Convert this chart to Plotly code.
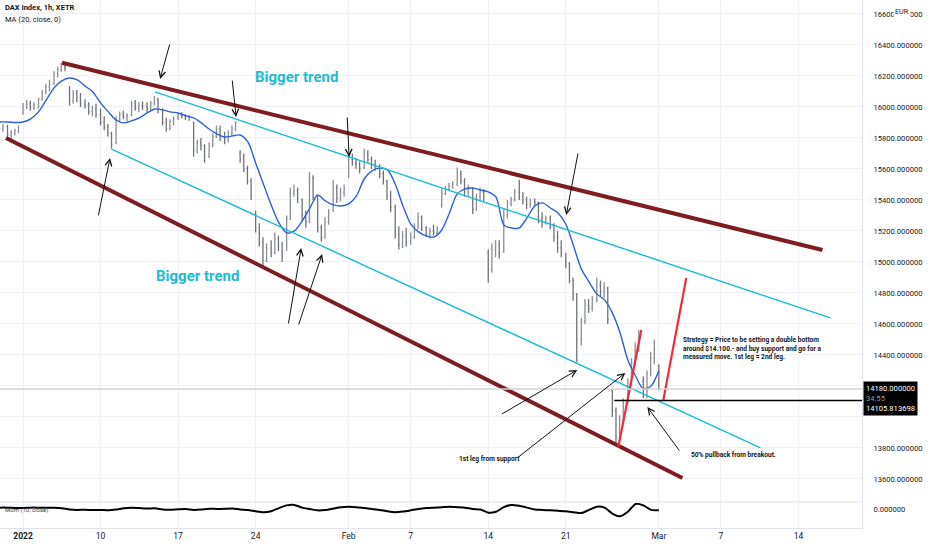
import plotly.graph_objects as go
from plotly.subplots import make_subplots

# trading days shown (Xetra sessions), 4 bars per session
days = ["2021-12-29", "2021-12-30",
        "2022-01-03", "2022-01-04", "2022-01-05", "2022-01-06", "2022-01-07",
        "2022-01-10", "2022-01-11", "2022-01-12", "2022-01-13", "2022-01-14",
        "2022-01-17", "2022-01-18", "2022-01-19", "2022-01-20", "2022-01-21",
        "2022-01-24", "2022-01-25", "2022-01-26", "2022-01-27", "2022-01-28",
        "2022-01-31", "2022-02-01", "2022-02-02", "2022-02-03", "2022-02-04",
        "2022-02-07", "2022-02-08", "2022-02-09", "2022-02-10", "2022-02-11",
        "2022-02-14", "2022-02-15", "2022-02-16", "2022-02-17", "2022-02-18",
        "2022-02-21", "2022-02-22", "2022-02-23", "2022-02-24", "2022-02-25",
        "2022-02-28", "2022-03-01"]
bar_hours = ["09:00", "11:00", "13:00", "15:00"]
ind_hours = ["09:00", "13:15"]

bar_open = [15850, 15870, 15880, 15860,  15870, 15820, 15830, 15845,
            15960, 16000, 16020, 15995,  16015, 16050, 16095, 16130,  16150, 16215, 16240, 16265,
            16120, 16040, 16090, 16060,  16020, 16010, 15970, 15990,
            15950, 15900, 15870, 15830,  15770, 15920, 15950, 15935,  15945, 16020, 15990, 16010,
            16000, 15990, 16025, 16050,  15980, 15900, 15860, 15905,
            15925, 15945, 15940, 15930,  15900, 15720, 15770, 15750,  15680, 15750, 15810, 15860,
            15800, 15790, 15830, 15860,  15700, 15660, 15600, 15520,
            15300, 15220, 15130, 15010,  15090, 15060, 15150, 15100,  15080, 15280, 15440, 15460,
            15400, 15300, 15260, 15540,  15420, 15220, 15160, 15260,
            15330, 15480, 15410, 15450,  15550, 15660, 15640, 15630,  15610, 15700, 15660, 15630,
            15620, 15570, 15520, 15430,  15350, 15180, 15110, 15170,
            15130, 15160, 15230, 15290,  15220, 15180, 15200, 15190,  15370, 15440, 15470, 15490,
            15500, 15570, 15520, 15450,  15470, 15340, 15420, 15450,
            15060, 14950, 15080, 15110,  15070, 15300, 15380, 15400,  15450, 15420, 15400, 15370,
            15390, 15380, 15280, 15260,  15280, 15240, 15160, 15090,
            15000, 14990, 14880, 14790,  14500, 14620, 14720, 14700,  14750, 14850, 14810, 14830,
            14170, 14040, 13870, 13980,  14090, 14220, 14350, 14450,
            14230, 14190, 14280, 14380,  14330]
bar_high = [15890, 15900, 15900, 15890,  15885, 15850, 15860, 15880,
            16025, 16045, 16040, 16030,  16060, 16110, 16150, 16175,  16230, 16260, 16285, 16280,
            16135, 16110, 16110, 16090,  16050, 16030, 16010, 16020,
            15990, 15940, 15890, 15840,  15940, 15970, 15975, 15960,  16040, 16045, 16030, 16035,
            16030, 16040, 16070, 16060,  15990, 15930, 15920, 15940,
            15960, 15965, 15955, 15950,  15905, 15790, 15800, 15760,  15770, 15830, 15880, 15880,
            15840, 15850, 15880, 15910,  15720, 15700, 15620, 15540,
            15330, 15250, 15160, 15120,  15140, 15190, 15170, 15130,  15300, 15480, 15500, 15480,
            15410, 15330, 15580, 15560,  15430, 15240, 15290, 15340,
            15530, 15500, 15480, 15500,  15690, 15700, 15670, 15650,  15730, 15720, 15680, 15660,
            15630, 15590, 15530, 15460,  15370, 15230, 15200, 15220,
            15190, 15250, 15320, 15300,  15230, 15220, 15240, 15230,  15470, 15490, 15510, 15520,
            15610, 15590, 15540, 15500,  15480, 15440, 15480, 15470,
            15080, 15120, 15140, 15140,  15340, 15400, 15420, 15470,  15530, 15450, 15420, 15410,
            15410, 15390, 15320, 15300,  15300, 15250, 15200, 15140,
            15060, 15000, 14900, 14800,  14640, 14760, 14760, 14780,  14900, 14880, 14870, 14840,
            14180, 14060, 14010, 14120,  14250, 14380, 14480, 14560,
            14260, 14300, 14420, 14500,  14340]
bar_low = [15830, 15850, 15840, 15840,  15800, 15790, 15815, 15830,
           15950, 15985, 15975, 15980,  15990, 16040, 16080, 16100,  16140, 16190, 16225, 16230,
           16010, 16020, 16030, 16000,  15990, 15950, 15940, 15930,
           15880, 15850, 15810, 15735,  15760, 15905, 15920, 15910,  15940, 15975, 15965, 15980,
           15965, 15975, 16010, 15960,  15880, 15840, 15850, 15880,
           15915, 15925, 15915, 15910,  15680, 15700, 15720, 15640,  15670, 15740, 15800, 15780,
           15760, 15770, 15815, 15845,  15640, 15580, 15500, 15400,
           15190, 15100, 14970, 15000,  15030, 15050, 15070, 15000,  15070, 15270, 15420, 15380,
           15270, 15220, 15250, 15400,  15190, 15130, 15150, 15240,
           15320, 15380, 15390, 15420,  15540, 15620, 15600, 15570,  15600, 15640, 15600, 15590,
           15540, 15500, 15400, 15320,  15150, 15080, 15090, 15100,
           15110, 15150, 15210, 15200,  15160, 15150, 15170, 15170,  15350, 15430, 15460, 15470,
           15490, 15500, 15420, 15420,  15310, 15330, 15400, 15390,
           14865, 14930, 15030, 15020,  15060, 15280, 15360, 15390,  15400, 15370, 15340, 15350,
           15360, 15250, 15220, 15240,  15210, 15130, 15060, 15030,
           14960, 14860, 14750, 14355,  14460, 14600, 14670, 14680,  14740, 14780, 14770, 14600,
           14000, 13820, 13850, 13950,  14080, 14200, 14330, 14420,
           14120, 14120, 14260, 14340,  14170]
bar_close = [15870, 15880, 15860, 15875,  15820, 15830, 15845, 15870,
             16000, 16020, 15995, 16015,  16050, 16095, 16130, 16150,  16215, 16240, 16265, 16250,
             16040, 16090, 16060, 16020,  16010, 15970, 15990, 15950,
             15900, 15870, 15830, 15760,  15920, 15950, 15935, 15945,  16020, 15990, 16010, 16000,
             15990, 16025, 16050, 15980,  15900, 15860, 15905, 15925,
             15945, 15940, 15930, 15935,  15720, 15770, 15750, 15680,  15750, 15810, 15860, 15800,
             15790, 15830, 15860, 15895,  15660, 15600, 15520, 15430,
             15220, 15130, 15010, 15090,  15060, 15150, 15100, 15040,  15280, 15440, 15460, 15410,
             15300, 15260, 15540, 15420,  15220, 15160, 15260, 15320,
             15480, 15410, 15450, 15470,  15660, 15640, 15630, 15600,  15700, 15660, 15630, 15620,
             15570, 15520, 15430, 15350,  15180, 15110, 15170, 15130,
             15160, 15230, 15290, 15220,  15180, 15200, 15190, 15220,  15440, 15470, 15490, 15500,
             15570, 15520, 15450, 15480,  15340, 15420, 15450, 15420,
             14950, 15080, 15110, 15060,  15300, 15380, 15400, 15450,  15420, 15400, 15370, 15390,
             15380, 15280, 15260, 15280,  15240, 15160, 15090, 15060,
             14990, 14880, 14790, 14500,  14620, 14720, 14700, 14750,  14850, 14810, 14830, 14630,
             14040, 13870, 13980, 14090,  14220, 14350, 14450, 14540,
             14190, 14280, 14380, 14440,  14180]

# MA (20, close) read twice per session
ma_values = [15900, 15903,  15903, 15900,
             15903, 15923,  15968, 16045,  16123, 16168,  16187, 16174,  16135, 16097,
             16026, 15968,  15916, 15897,  15910, 15929,  15961, 15987,  15981, 15968,
             15961, 15942,  15929, 15897,  15858, 15826,  15806, 15813,  15819, 15774,
             15639, 15503,  15368, 15252,  15187, 15200,  15264, 15348,  15432, 15393,
             15368, 15361,  15374, 15426,  15535, 15587,  15606, 15594,  15503, 15361,
             15245, 15194,  15168, 15161,  15206, 15316,  15439, 15471,  15477, 15464,
             15452, 15419,  15239, 15219,  15219, 15284,  15361, 15381,  15348, 15316,
             15245, 15103,  14955, 14871,  14794, 14755,  14671, 14542,  14368, 14264,
             14181, 14200,  14297]

# Mom (10, close)
mom_values = [100, 150,  150, 120,
              100, 150,  150, 150,  130, 80,  -50, -100,  -80, -120,
              -100, -150,  -60, 80,  150, 100,  50, 80,  -50, -80,
              -30, 0,  -100, -60,  40, 0,  20, 60,  -50, -120,
              -250, -350,  -250, 100,  400, 450,  150, 0,  -150, -100,
              50, 200,  250, 200,  100, 0,  -100, -250,  -350, -280,
              -150, 0,  100, 150,  200, 250,  200, 150,  0, -50,
              -400, -300,  200, 450,  350, 150,  -50, -100,  -150, -200,
              -250, -350,  -450, -100,  250, 150,  -500, -800,  -300, 550,
              400, -100,  -150]

tick_dates = ["2022-01-03", "2022-01-10", "2022-01-17", "2022-01-24", "2022-02-01",
              "2022-02-07", "2022-02-14", "2022-02-21", "2022-03-01", "2022-03-07", "2022-03-14"]
tick_text = ["<b>2022</b>", "10", "17", "24", "Feb", "7", "14", "21", "Mar", "7", "14"]
price_ticks = list(range(13600, 16601, 200))
hidden_price_ticks = [14000, 14200]   # covered by the price labels box

# drawings: (time0, price0, time1, price1)
channel_lines = [("2022-01-05 13:23", 16285, "2022-03-15 13:41", 15077),
                 ("2021-12-29 16:40", 15800, "2022-03-02 13:25", 13606)]
inner_lines = [("2022-01-13 13:23", 16097, "2022-03-16 09:31", 14639),
               ("2022-01-10 14:45", 15729, "2022-03-09 13:41", 13800)]
leg_lines = [("2022-02-24 12:19", 13807, "2022-02-25 16:24", 14561),
             ("2022-03-01 11:28", 14110, "2022-03-02 15:33", 14897)]
support_level = 14105.813698
last_price = 14180
# arrows: tip time, tip price, tail offset (px)
arrows = [("2022-01-13 16:08", 16181, 10, -36),
          ("2022-01-20 15:18", 15935, -4, -38),
          ("2022-01-10 14:12", 15671, -12, 59),
          ("2022-02-01 09:15", 15677, -2, -41),
          ("2022-02-21 09:15", 15303, 12, -63),
          ("2022-01-26 16:58", 15090, -13, 77),
          ("2022-01-28 11:28", 15051, -24, 72),
          ("2022-02-21 15:18", 14303, -77, 45),
          ("2022-02-24 16:08", 14284, -108, 85),
          ("2022-02-28 11:13", 14064, 33, 45)]

x_bars = [f"{d} {h}" for d in days for h in bar_hours][:len(bar_close)]
x_ind = [f"{d} {h}" for d in days for h in ind_hours]
x_ma = x_ind[:len(ma_values)]
x_mom = x_ind[:len(mom_values)]

fig = make_subplots(rows=2, cols=1, shared_xaxes=True, vertical_spacing=0,
                    row_heights=[502, 26])

fig.add_trace(go.Ohlc(x=x_bars, open=bar_open, high=bar_high, low=bar_low, close=bar_close,
                      increasing_line_color='#8b8e96', decreasing_line_color='#6f727a',
                      line_width=1.3, tickwidth=0.25, showlegend=False, hoverinfo='skip'),
              row=1, col=1)
fig.add_trace(go.Scatter(x=x_ma, y=ma_values, mode='lines',
                         line=dict(color='#2f5fd8', width=1.4, shape='spline', smoothing=0.8),
                         showlegend=False, hoverinfo='skip'), row=1, col=1)
fig.add_trace(go.Scatter(x=x_mom, y=mom_values, mode='lines',
                         line=dict(color='black', width=2, shape='spline', smoothing=0.6),
                         showlegend=False, hoverinfo='skip'), row=2, col=1)

shapes = []
for x0, y0, x1, y1 in channel_lines:
    shapes.append(dict(type='line', xref='x', yref='y', x0=x0, y0=y0, x1=x1, y1=y1,
                       line=dict(color='#7d1d22', width=4)))
for x0, y0, x1, y1 in inner_lines:
    shapes.append(dict(type='line', xref='x', yref='y', x0=x0, y0=y0, x1=x1, y1=y1,
                       line=dict(color='#1fbdd3', width=1.5)))
for x0, y0, x1, y1 in leg_lines:
    shapes.append(dict(type='line', xref='x', yref='y', x0=x0, y0=y0, x1=x1, y1=y1,
                       line=dict(color='#ef2b3b', width=2.2)))
shapes.append(dict(type='line', xref='x domain', yref='y', x0=0, x1=1,
                   y0=last_price, y1=last_price, line=dict(color='#d3d5da', width=1.5)))
shapes.append(dict(type='line', xref='x', yref='y', x0="2022-02-24 10:06", x1="2022-03-18 09:51",
                   y0=support_level, y1=support_level, line=dict(color='black', width=1.3)))
shapes.append(dict(type='line', xref='paper', yref='paper', x0=0, x1=1,
                   y0=26 / 528, y1=26 / 528, line=dict(color='#e0e3eb', width=1)))

annotations = []
for tx, ty, dx, dy in arrows:
    annotations.append(dict(x=tx, y=ty, xref='x', yref='y', ax=dx, ay=dy, text='',
                            showarrow=True, arrowhead=5, arrowsize=1.3, arrowwidth=1,
                            arrowcolor='#111111'))

text_font = dict(family='Roboto', color='#131722')
annotations += [
    dict(x="2022-01-26 14:11", y=16194, xref='x', yref='y', text='<b>Bigger trend</b>',
         showarrow=False, font=dict(family='Roboto', size=15, color='#1fbad0')),
    dict(x="2022-01-18 10:57", y=14910, xref='x', yref='y', text='<b>Bigger trend</b>',
         showarrow=False, font=dict(family='Roboto', size=15, color='#1fbad0')),
    dict(x="2022-03-02 12:50", y=14439, xref='x', yref='y', xanchor='left', align='left',
         text='<b>Strategy = Price to be setting a double bottom<br>'
              'around $14.100.- and buy support and go for a<br>'
              'measured move. 1st leg = 2nd leg.</b>',
         showarrow=False, font=dict(text_font, size=6.6)),
    dict(x="2022-02-14 09:31", y=13729, xref='x', yref='y', text='<b>1st leg from support</b>',
         showarrow=False, font=dict(text_font, size=6.6)),
    dict(x="2022-03-02 17:15", y=13755, xref='x', yref='y', xanchor='left',
         text='<b>50% pullback from breakout.</b>',
         showarrow=False, font=dict(text_font, size=6.6)),
    dict(x=0, y=1, xref='paper', yref='paper', xanchor='left', yanchor='top', xshift=3, yshift=-1,
         text='<b>DAX Index, 1h, XETR</b>', showarrow=False, font=dict(text_font, size=7.5)),
    dict(x=0, y=1, xref='paper', yref='paper', xanchor='left', yanchor='top', xshift=3, yshift=-13,
         text='MA (20, close, 0)', showarrow=False, font=dict(text_font, size=7.5)),
    dict(x=0, y=-150, xref='paper', yref='y2', xanchor='left', xshift=3,
         text='Mom (10, close)', showarrow=False, font=dict(family='Roboto', size=6, color='#444')),
    dict(x=1, y=14120, xref='paper', yref='y', xanchor='left', xshift=1, align='left',
         text='14180.000000<br><span style="color:#9a9a9a">34:55</span><br>14105.813698',
         showarrow=False, bgcolor='black', borderpad=2,
         font=dict(family='Roboto', size=7.6, color='white')),
    dict(x=1, y=1, xref='paper', yref='paper', xanchor='left', yanchor='top', xshift=31, yshift=-5,
         text='EUR', showarrow=False, bgcolor='white', borderpad=1,
         font=dict(family='Roboto', size=7.2, color='#131722')),
]

rb = [dict(bounds=["sat", "mon"]), dict(bounds=[17.5, 9], pattern="hour"),
      dict(values=["2021-12-31 09:00"], dvalue=8.5 * 3600 * 1000)]
x_range = ["2021-12-29 13:23", "2022-03-18 09:51"]
tick_vals = [f"{d} 09:00" for d in tick_dates]

fig.update_xaxes(rangebreaks=rb, range=x_range, tickvals=tick_vals, ticktext=tick_text,
                 showgrid=True, gridcolor='#f0f1f4', gridwidth=1, zeroline=False,
                 rangeslider_visible=False, ticks='', showline=False)
fig.update_xaxes(showticklabels=False, row=1, col=1)
fig.update_xaxes(showticklabels=True, showline=True, linecolor='#e0e3eb',
                 tickfont=dict(family='Roboto', size=8.5, color='#131722'), row=2, col=1)

fig.update_yaxes(side='right', range=[13451, 16690], tickvals=price_ticks,
                 ticktext=['' if p in hidden_price_ticks else f"{p:.6f}" for p in price_ticks],
                 showgrid=True, gridcolor='#f0f1f4', zeroline=False, ticks='',
                 showline=True, linecolor='#e0e3eb', ticklabelstandoff=9,
                 tickfont=dict(family='Roboto', size=7.6, color='#131722'), row=1, col=1)
fig.update_yaxes(side='right', range=[-2090, 770], tickvals=[0], ticktext=['0.000000'],
                 showgrid=False, zeroline=False, ticks='', showline=True, linecolor='#e0e3eb',
                 ticklabelstandoff=9,
                 tickfont=dict(family='Roboto', size=7.6, color='#131722'), row=2, col=1)

fig.update_layout(width=932, height=550, margin=dict(l=0, r=70, t=0, b=22),
                  plot_bgcolor='white', paper_bgcolor='white',
                  shapes=shapes, annotations=annotations, showlegend=False,
                  xaxis_rangeslider_visible=False)

fig.write_html("out.html", config={'displayModeBar': False},
               post_script="document.body.style.margin='0px';")
